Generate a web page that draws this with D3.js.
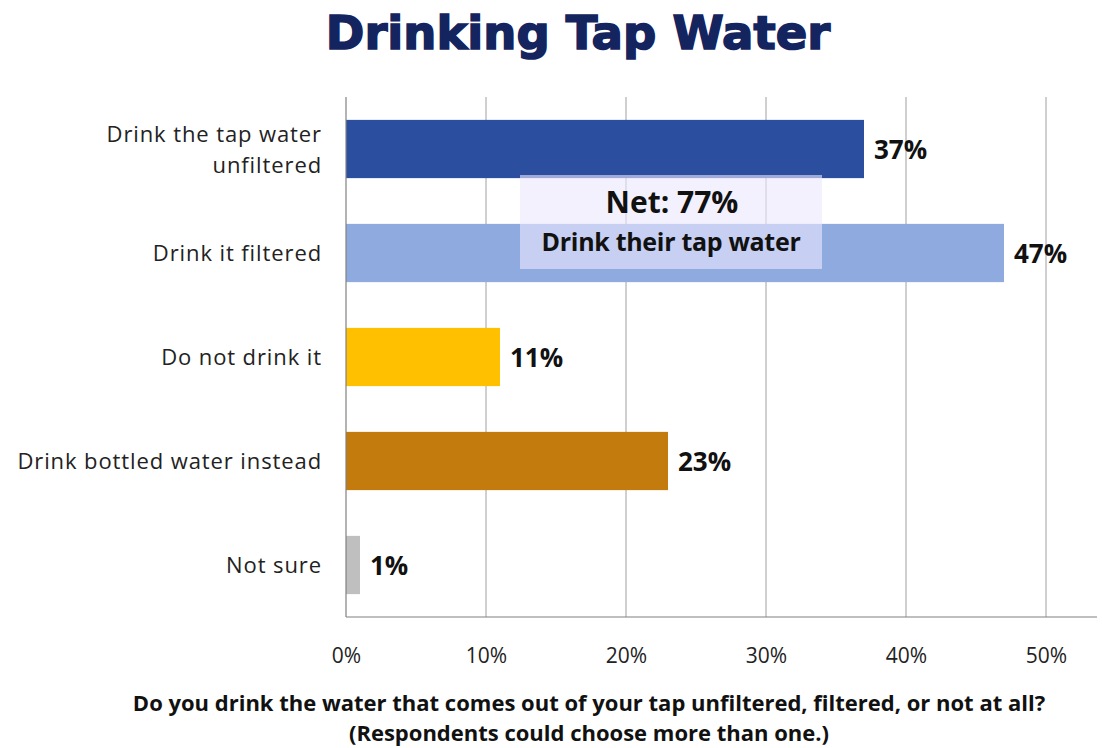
<!DOCTYPE html>
<html>
<head>
<meta charset="utf-8">
<script src="https://cdn.jsdelivr.net/npm/d3@7"></script>
<style>
  html, body { margin: 0; padding: 0; background: #fff; }
  svg { display: block; }
</style>
</head>
<body>
<svg id="chart" width="1102" height="748"></svg>
<script>
// Survey answers and their shares (percent)
const categories = [
  ["Drink the tap water", "unfiltered"],
  ["Drink it filtered"],
  ["Do not drink it"],
  ["Drink bottled water instead"],
  ["Not sure"]
];
const values = [37, 47, 11, 23, 1];
const barColors = ["#2b4f9e", "#8eaadf", "#ffc000", "#c27b0c", "#bfbfbf"];
const tickValues = [0, 10, 20, 30, 40, 50];
const netValue = 77;

const svg = d3.select("#chart");
const margin = { top: 97, left: 346, right: 56, bottom: 131 };
const W = 1102, H = 748;

const x = d3.scaleLinear().domain([0, 50]).range([margin.left, W - margin.right]);
const y = d3.scaleBand().domain(d3.range(categories.length))
  .range([margin.top, H - margin.bottom]).paddingInner(0.44).paddingOuter(0.22);

const font = "'Open Sans', sans-serif";

// Title
svg.append("text")
  .attr("x", 578).attr("y", 49)
  .attr("text-anchor", "middle")
  .attr("font-family", "'DejaVu Sans', sans-serif")
  .attr("font-weight", 900)
  .attr("font-size", 46.5)
  .attr("fill", "#14245f")
  .attr("stroke", "#14245f").attr("stroke-width", 1.6)
  .text("Drinking Tap Water");

// Vertical gridlines
svg.append("g").selectAll("line")
  .data(tickValues.filter(d => d > 0))
  .join("line")
  .attr("x1", d => x(d)).attr("x2", d => x(d))
  .attr("y1", margin.top).attr("y2", H - margin.bottom)
  .attr("stroke", "#a0a0a0").attr("stroke-width", 1);

// Bars
svg.append("g").selectAll("rect")
  .data(values)
  .join("rect")
  .attr("x", x(0))
  .attr("y", (d, i) => y(i))
  .attr("width", d => x(d) - x(0))
  .attr("height", y.bandwidth())
  .attr("fill", (d, i) => barColors[i]);

// Axes lines
svg.append("line")
  .attr("x1", x(0)).attr("x2", x(0))
  .attr("y1", margin.top).attr("y2", H - margin.bottom)
  .attr("stroke", "#808080").attr("stroke-width", 1.2);
svg.append("line")
  .attr("x1", x(0)).attr("x2", W - 5)
  .attr("y1", H - margin.bottom).attr("y2", H - margin.bottom)
  .attr("stroke", "#808080").attr("stroke-width", 1.2);

// Tick labels
const xAxis = d3.axisBottom(x).tickValues(tickValues).tickFormat(d => d + "%").tickSize(0).tickPadding(0);
const gx = svg.append("g").attr("transform", `translate(0,${H - margin.bottom + 46})`).call(xAxis);
gx.select(".domain").remove();
gx.selectAll("text")
  .attr("font-family", font).attr("font-size", 21).attr("fill", "#222").attr("dy", 0);

// Category labels
const catG = svg.append("g").selectAll("text")
  .data(categories)
  .join("text")
  .attr("x", 322)
  .attr("text-anchor", "end")
  .attr("font-family", font)
  .attr("font-size", 22)
  .attr("letter-spacing", 0.9)
  .attr("fill", "#222")
  .attr("y", (d, i) => y(i) + y.bandwidth() / 2 - (d.length - 1) * 15.5 + 8);
catG.selectAll("tspan")
  .data(d => d)
  .join("tspan")
  .attr("x", 322)
  .attr("dy", (d, i) => i === 0 ? 0 : 31)
  .text(d => d);

// Value labels
svg.append("g").selectAll("text")
  .data(values)
  .join("text")
  .attr("x", d => x(d) + 10)
  .attr("y", (d, i) => y(i) + y.bandwidth() / 2 + 10)
  .attr("font-family", font)
  .attr("font-weight", 700)
  .attr("font-size", 26)
  .attr("fill", "#111")
  .text(d => d + "%");

// Net callout box
const net = svg.append("g");
net.append("rect")
  .attr("x", 520).attr("y", 175).attr("width", 302).attr("height", 94)
  .attr("fill", "#ece8ff").attr("fill-opacity", 0.6);
net.append("text")
  .attr("x", 672).attr("y", 213)
  .attr("text-anchor", "middle")
  .attr("font-family", font).attr("font-weight", 700).attr("font-size", 30)
  .attr("fill", "#111")
  .text(`Net: ${netValue}%`);
net.append("text")
  .attr("x", 671).attr("y", 251)
  .attr("text-anchor", "middle")
  .attr("font-family", font).attr("font-weight", 700).attr("font-size", 25)
  .attr("letter-spacing", -0.3)
  .attr("fill", "#111")
  .text("Drink their tap water");

// Question footnote
const foot = svg.append("text")
  .attr("text-anchor", "middle")
  .attr("font-family", font).attr("font-weight", 700).attr("font-size", 22)
  .attr("fill", "#111");
foot.append("tspan").attr("x", 589).attr("y", 711)
  .text("Do you drink the water that comes out of your tap unfiltered, filtered, or not at all?");
foot.append("tspan").attr("x", 589).attr("y", 741)
  .text("(Respondents could choose more than one.)");
</script>
</body>
</html>
